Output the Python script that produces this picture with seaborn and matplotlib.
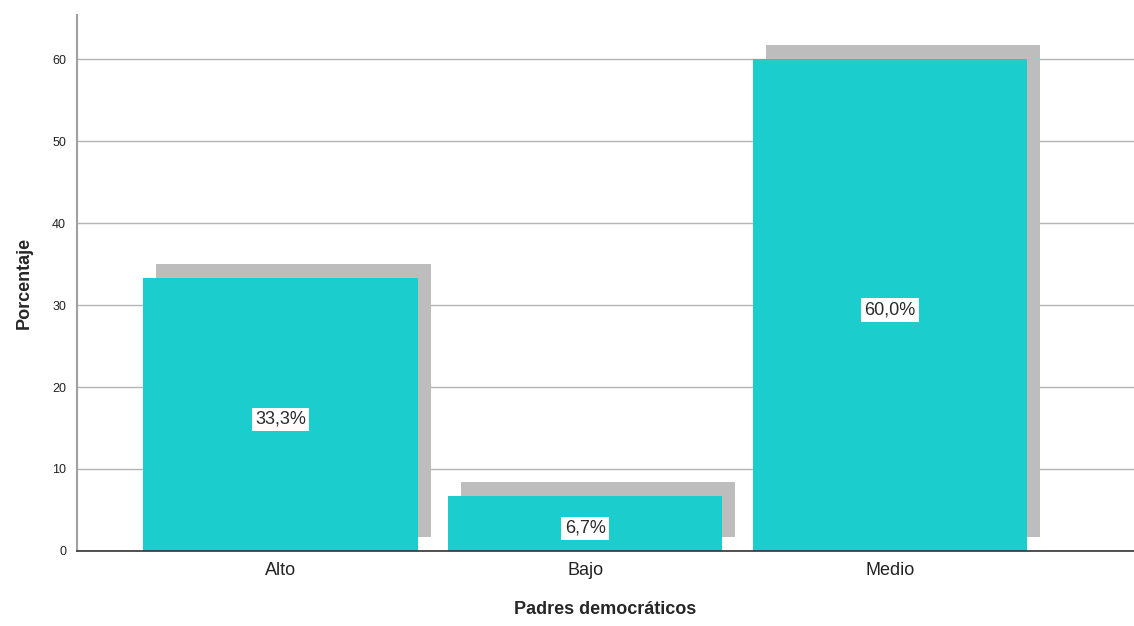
import pandas as pd
import seaborn as sns
import matplotlib.pyplot as plt
import matplotlib.transforms as mtransforms

# Data
categories = ['Alto', 'Bajo', 'Medio']
percentages = [33.3, 6.7, 60.0]
pct_labels = ['33,3%', '6,7%', '60,0%']

df = pd.DataFrame({'nivel': categories, 'porcentaje': percentages})

sns.set_theme(style='white')
plt.rcParams['font.family'] = ['Liberation Sans', 'DejaVu Sans']

fig = plt.figure(figsize=(11.34, 6.26), dpi=100)
ax = fig.add_axes([0.068, 0.12, 0.932, 0.856])

# shadow bars first, shifted up/right in screen space
sns.barplot(data=df, x='nivel', y='porcentaje', order=categories,
            color='#bdbdbd', saturation=1, width=0.9, ax=ax)
shift = mtransforms.ScaledTranslation(0.13, 0.14, fig.dpi_scale_trans)
for patch in list(ax.patches):
    patch.set_transform(ax.transData + shift)
    patch.set_edgecolor('none')
    patch.set_zorder(1)

n_shadow = len(ax.patches)
sns.barplot(data=df, x='nivel', y='porcentaje', order=categories,
            color='#1ccdcd', saturation=1, width=0.9, ax=ax)
for patch in ax.patches[n_shadow:]:
    patch.set_edgecolor('none')
    patch.set_zorder(2)

# value labels in white boxes (nudged down a few px like the original)
label_tr = mtransforms.offset_copy(ax.transData, fig=fig, x=0, y=-5, units='dots')
for i, (val, lab) in enumerate(zip(percentages, pct_labels)):
    ax.text(i, val / 2, lab, ha='center', va='center', fontsize=13,
            color='#2a2a2a', zorder=5, transform=label_tr,
            bbox=dict(facecolor='white', edgecolor='none', pad=2.5))

ax.set_xlim(-0.667, 2.80)
ax.set_ylim(0, 65.4)
ax.set_yticks([0, 10, 20, 30, 40, 50, 60])
ax.yaxis.grid(True, color='#b4b4b4', linewidth=1.0)
ax.set_axisbelow(True)

for side in ['top', 'right']:
    ax.spines[side].set_visible(False)
ax.spines['left'].set_color('#a0a0a0')
ax.spines['left'].set_linewidth(1.5)
ax.spines['bottom'].set_color('#333333')
ax.spines['bottom'].set_linewidth(1.2)

ax.tick_params(axis='y', labelsize=9, length=0, pad=8, colors='#222222')
ax.tick_params(axis='x', labelsize=13, length=0, pad=8, colors='#222222')

ax.set_xlabel('Padres democráticos', fontsize=13, fontweight='bold', labelpad=16)
ax.set_ylabel('Porcentaje', fontsize=13, fontweight='bold', labelpad=14)

plt.savefig('out.png', dpi=100)
